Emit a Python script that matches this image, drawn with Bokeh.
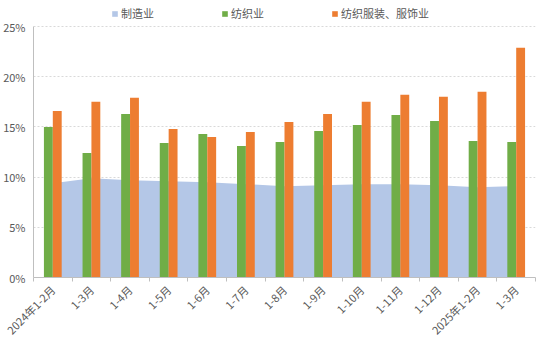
import numpy as np
from bokeh.plotting import figure
from bokeh.models import (ColumnDataSource, Legend, LegendItem, LinearAxis, FixedTicker,
                          Range1d, PrintfTickFormatter)
from bokeh.embed import file_html
from bokeh.resources import INLINE

categories = ["2024年1-2月", "1-3月", "1-4月", "1-5月", "1-6月", "1-7月", "1-8月",
              "1-9月", "1-10月", "1-11月", "1-12月", "2025年1-2月", "1-3月"]
manufacturing = [9.4, 9.9, 9.7, 9.6, 9.5, 9.3, 9.1, 9.2, 9.3, 9.3, 9.2, 9.0, 9.1]
textile = [15.0, 12.4, 16.3, 13.4, 14.3, 13.1, 13.5, 14.6, 15.2, 16.2, 15.6, 13.6, 13.5]
apparel = [16.6, 17.5, 17.9, 14.8, 14.0, 14.5, 15.5, 16.3, 17.5, 18.2, 18.0, 18.5, 22.9]
y_ticks = [0, 5, 10, 15, 20, 25]
series_names = ["制造业", "纺织业", "纺织服装、服饰业"]

FONT = "Noto Sans CJK SC"
TXT = "#595959"
n = len(categories)
centers = np.arange(n) + 0.5

src = ColumnDataSource(dict(x=centers, m=manufacturing, t=textile, a=apparel,
                            xt=centers - 0.115, xa=centers + 0.115))

# the frame extends above 25% to leave room for the legend strip
p = figure(width=538, height=345, output_backend="svg", toolbar_location=None,
           x_range=Range1d(0, n), y_range=Range1d(0, 27.6),
           min_border_left=25, min_border_right=3, min_border_top=0, min_border_bottom=60,
           x_axis_type=None)
p.outline_line_color = None
p.background_fill_color = "white"
p.border_fill_color = "white"

r_area = p.varea(x="x", y1=0, y2="m", source=src, fill_color="#B4C7E7")
r_t = p.vbar(x="xt", top="t", width=0.23, source=src, fill_color="#70AD47", line_color=None)
r_a = p.vbar(x="xa", top="a", width=0.23, source=src, fill_color="#ED7D31", line_color=None)

# y axis
p.yaxis.ticker = FixedTicker(ticks=y_ticks)
p.yaxis.bounds = (0, 25)
p.yaxis.formatter = PrintfTickFormatter(format="%d%%")
p.yaxis.major_label_text_font = FONT
p.yaxis.major_label_text_font_size = "11px"
p.yaxis.major_label_text_color = TXT
p.yaxis.axis_line_color = "#bfbfbf"
p.yaxis.major_tick_line_color = None
p.yaxis.minor_tick_line_color = None
p.yaxis.major_label_standoff = 2
p.ygrid.ticker = FixedTicker(ticks=y_ticks[1:])
p.ygrid.grid_line_color = "#d9d9d9"
p.ygrid.grid_line_dash = "2 2"
p.xgrid.grid_line_color = None

# x axis: labels at category centers, tick marks at category boundaries (minor ticks)
x_axis = LinearAxis(ticker=FixedTicker(ticks=list(centers), minor_ticks=list(range(n + 1))),
                    major_label_overrides={float(c): lab for c, lab in zip(centers, categories)},
                    axis_line_color="#bfbfbf", major_tick_line_color=None,
                    minor_tick_line_color="#bfbfbf", minor_tick_out=4, minor_tick_in=0,
                    major_tick_out=0, major_tick_in=0,
                    major_label_orientation=np.pi / 4, major_label_standoff=6,
                    major_label_text_font=FONT, major_label_text_font_size="11px",
                    major_label_text_color=TXT)
p.add_layout(x_axis, "below")

legend = Legend(items=[LegendItem(label=series_names[0], renderers=[r_area]),
                       LegendItem(label=series_names[1], renderers=[r_t]),
                       LegendItem(label=series_names[2], renderers=[r_a])],
                orientation="horizontal", location=(78, 256),
                glyph_width=7, glyph_height=7, label_standoff=3, spacing=67,
                padding=0, margin=0, border_line_color=None, background_fill_alpha=0,
                label_text_font=FONT, label_text_font_size="11px", label_text_color=TXT,
                label_height=14)
p.add_layout(legend, "center")

open("out.html", "w").write(file_html(p, INLINE))
